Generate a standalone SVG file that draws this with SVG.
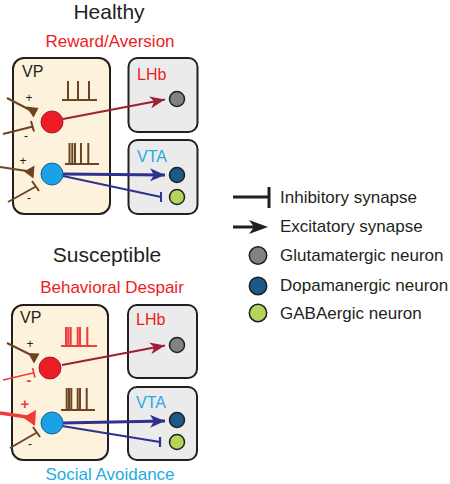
<svg xmlns="http://www.w3.org/2000/svg" width="450" height="484" viewBox="0 0 450 484">
<defs>
<style>
text{font-family:"Liberation Sans",Arial,sans-serif}
.title{font-size:21px;fill:#231f20;text-anchor:middle}
.lab{font-size:17px;text-anchor:middle}
.red{fill:#ed1c24}
.blue{fill:#27aae1}
.vp{fill:#fdf3dc;stroke:#231f20;stroke-width:2}
.gb{fill:#ebebeb;stroke:#231f20;stroke-width:2}
.boxlab{font-size:16px}
.leg{font-size:17px;fill:#231f20}
.sign{font-size:12px;fill:#231f20;text-anchor:middle}
.brn{stroke:#6b4423;stroke-width:2;fill:none}
.spk{stroke:#6b4423;stroke-width:2;fill:none}
.spkr{stroke:#ef3b39;stroke-width:2;fill:none}
.nr{fill:#ec1c24;stroke:#9e1f36;stroke-width:1}
.nb{fill:#1ba1e6;stroke:#1b5e9a;stroke-width:1}
.cg{fill:#808285;stroke:#231f20;stroke-width:1.5}
.cd{fill:#1a5a86;stroke:#231f20;stroke-width:1.5}
.cl{fill:#b4d45a;stroke:#231f20;stroke-width:1.5}
</style>
<marker id="arR" markerUnits="userSpaceOnUse" markerWidth="15" markerHeight="12" refX="15" refY="6" orient="auto" viewBox="0 0 15 12">
<path d="M0,0 L15,6 L0,12 L4,6 Z" fill="#9e1f36"/>
</marker>
<marker id="arB" markerUnits="userSpaceOnUse" markerWidth="15" markerHeight="13" refX="15" refY="6.5" orient="auto" viewBox="0 0 15 13">
<path d="M0,0 L15,6.5 L0,13 L4,6.5 Z" fill="#2e3192"/>
</marker>
</defs>

<text class="title" x="109" y="19">Healthy</text>
<text class="lab red" x="110" y="47">Reward/Aversion</text>
<text class="title" x="107" y="262">Susceptible</text>
<text class="lab red" x="112" y="293">Behavioral Despair</text>
<text class="lab blue" x="110" y="480">Social Avoidance</text>

<g id="vp-healthy">
<rect class="vp" x="13" y="58" width="97" height="156" rx="11"/>
<text class="boxlab" x="22" y="77" fill="#231f20">VP</text>
<path class="spk" d="M62,100 H97 M68,100 V81 M78,100 V81 M89,100 V81"/>
<path class="spk" d="M65,164 H99 M69.5,164 V143 M72.3,164 V143 M75,164 V143 M81,164 V143 M88.3,164 V143"/>
</g>
<g id="lhb-healthy">
<rect class="gb" x="128.5" y="58" width="69" height="74" rx="9"/>
<text class="boxlab red" x="137" y="80" font-size="17">LHb</text>
<circle class="cg" cx="177" cy="99" r="7.5"/>
</g>
<g id="vta-healthy">
<rect class="gb" x="128.5" y="140" width="69" height="74" rx="9"/>
<text class="boxlab blue" x="137" y="162">VTA</text>
<circle class="cd" cx="177" cy="175" r="7.5"/>
<circle class="cl" cx="177" cy="197" r="7.5"/>
</g>

<g id="inputs-healthy">
<path class="brn" d="M7,98 L30,110"/>
<polygon points="26,106.5 38.5,108 33.5,117.5" fill="#6b4423"/>
<text class="sign" x="29" y="101.5">+</text>
<path class="brn" d="M3,134 L33,126.5 M31,121 L34,131.5"/>
<text class="sign" x="26" y="140">-</text>
<path class="brn" d="M0,167 L27,171"/>
<polygon points="24,171.5 34.5,165.5 33.5,178.5" fill="#6b4423"/>
<text class="sign" x="23" y="164.5">+</text>
<path class="brn" d="M8,202 L35,187 M32,181 L39,191"/>
<text class="sign" x="29" y="202">-</text>
</g>

<g id="connectors-healthy">
<path d="M63,119 L165,99.5" stroke="#9e1f36" stroke-width="2" fill="none" marker-end="url(#arR)"/>
<path d="M63,174 L165,175" stroke="#2e3192" stroke-width="3" fill="none" marker-end="url(#arB)"/>
<path d="M63,176 L161,197 M161,192 V202" stroke="#2e3192" stroke-width="2" fill="none"/>
</g>

<g id="red-neuron-healthy"><circle class="nr" cx="52" cy="122" r="11"/></g>
<g id="blue-neuron-healthy"><circle class="nb" cx="52" cy="174" r="11"/></g>

<g id="vp-susceptible">
<rect class="vp" x="12" y="305" width="96" height="155" rx="11"/>
<text class="boxlab" x="20" y="323" fill="#231f20">VP</text>
<path class="spkr" d="M61,346 H97 M66,346 V327 M68.3,346 V327 M70.7,346 V327 M77.7,346 V327 M80,346 V327 M87.3,346 V327"/>
<path class="spk" d="M61,410 H95 M66.7,410 V388 M69,410 V388 M71.3,410 V388 M77.7,410 V388 M80,410 V388 M86.7,410 V388"/>
</g>
<g id="lhb-susceptible">
<rect class="gb" x="128" y="305" width="69" height="73" rx="9"/>
<text class="boxlab red" x="136" y="325" font-size="17">LHb</text>
<circle class="cg" cx="177" cy="345" r="7.5"/>
</g>
<g id="vta-susceptible">
<rect class="gb" x="128" y="387" width="69" height="73" rx="9"/>
<text class="boxlab blue" x="136" y="408">VTA</text>
<circle class="cd" cx="177" cy="420" r="7.5"/>
<circle class="cl" cx="177" cy="442" r="7.5"/>
</g>

<g id="inputs-susceptible">
<path class="brn" d="M7,343 L31,355"/>
<polygon points="28,353 39.5,353.5 34,363.5" fill="#6b4423"/>
<text class="sign" x="30" y="347.5">+</text>
<path d="M3,380 L33,373 M32.5,368 L35,377.5" stroke="#ef3b39" stroke-width="1.6" fill="none"/>
<text x="29" y="385" font-size="15" font-weight="bold" fill="#ef3b39" text-anchor="middle">-</text>
<path d="M0,413 L27,417" stroke="#ef3b39" stroke-width="3.5" fill="none"/>
<polygon points="23,417.5 36,410 35,426" fill="#ef3b39"/>
<text x="25" y="408.5" font-size="15" font-weight="bold" fill="#ef3b39" text-anchor="middle">+</text>
<path class="brn" d="M10,448 L36,433 M33,427 L40,437"/>
<text class="sign" x="30" y="448">-</text>
</g>

<g id="connectors-susceptible">
<path d="M62,365 L165,345.5" stroke="#9e1f36" stroke-width="2.2" fill="none" marker-end="url(#arR)"/>
<path d="M62,423 L165,421" stroke="#2e3192" stroke-width="3" fill="none" marker-end="url(#arB)"/>
<path d="M62,426 L160,442 M160,437 V447" stroke="#2e3192" stroke-width="2.2" fill="none"/>
</g>

<g id="red-neuron-susceptible"><circle class="nr" cx="50" cy="368" r="11"/></g>
<g id="blue-neuron-susceptible"><circle class="nb" cx="52" cy="423" r="11"/></g>

<g id="legend">
<path d="M233,197 H269 M269,187 V208" stroke="#231f20" stroke-width="3" fill="none"/>
<text class="leg" x="280" y="203">Inhibitory synapse</text>
<path d="M233,227 H256" stroke="#231f20" stroke-width="3" fill="none"/>
<path d="M268,227 L249,220 L254,227 L249,234 Z" fill="#231f20"/>
<text class="leg" x="280" y="232">Excitatory synapse</text>
<circle class="cg" cx="258" cy="255.5" r="8.7"/>
<text class="leg" x="280" y="261">Glutamatergic neuron</text>
<circle class="cd" cx="258" cy="286" r="8.7"/>
<text class="leg" x="280" y="291">Dopamanergic neuron</text>
<circle class="cl" cx="258" cy="313" r="8.7"/>
<text class="leg" x="280" y="319">GABAergic neuron</text>
</g>
</svg>
